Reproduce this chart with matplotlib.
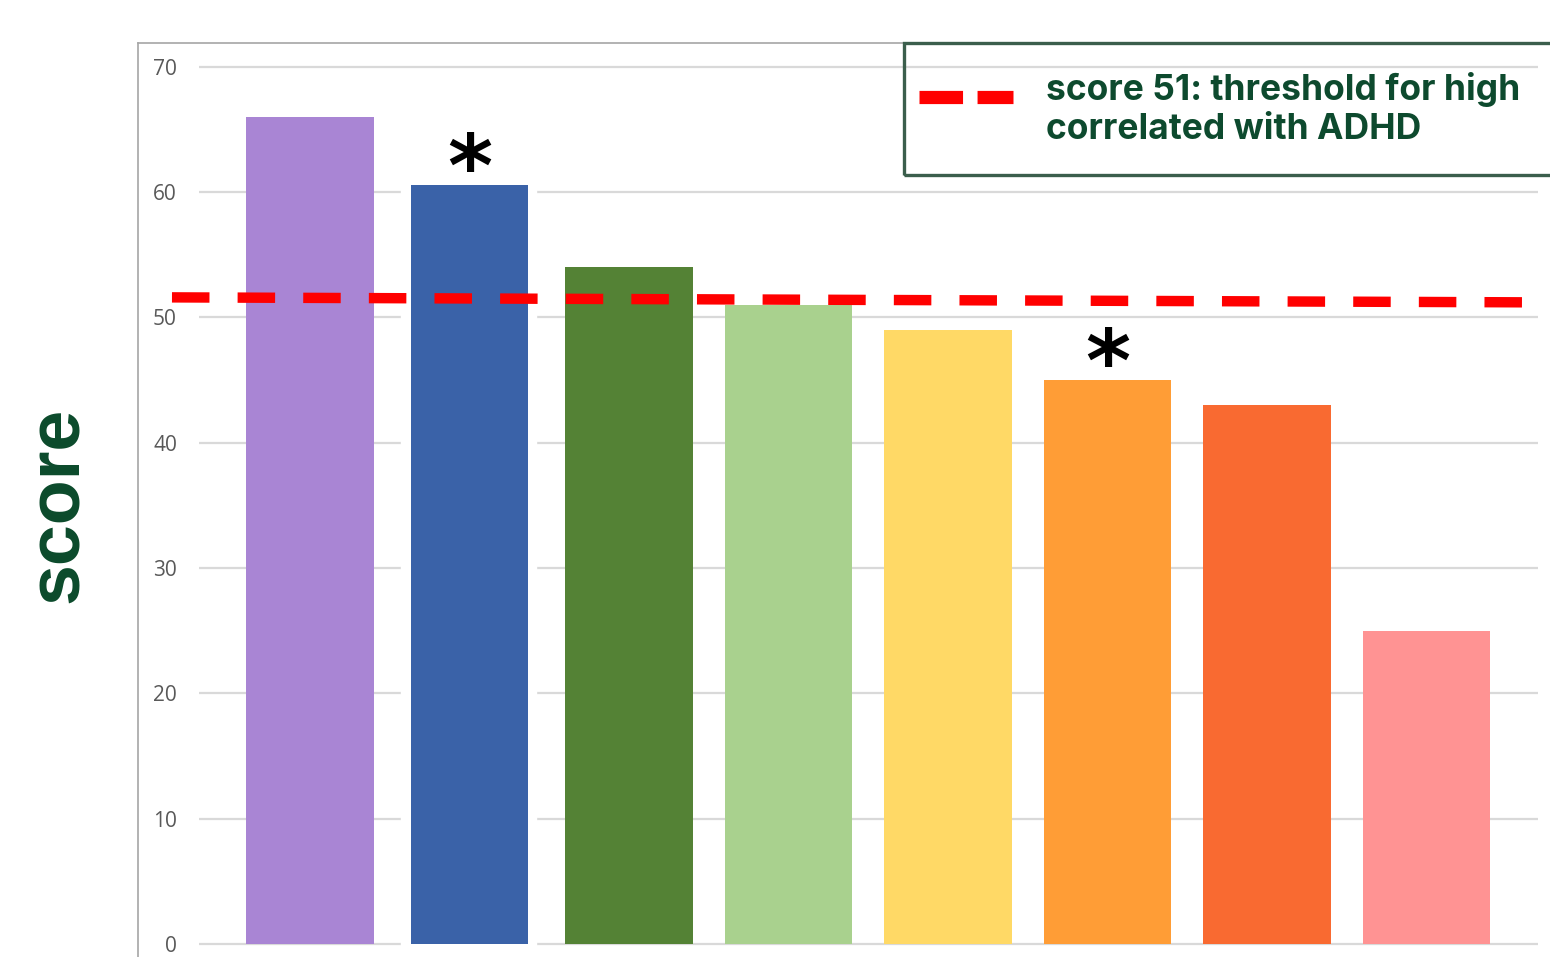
import matplotlib
matplotlib.use("Agg")
import matplotlib.pyplot as plt
from matplotlib.patches import Rectangle
from matplotlib.lines import Line2D

# values
scores = [66, 60.6, 54, 51, 49, 45, 43, 25]
bar_colors = ["#a985d4", "#3a62a8", "#548235", "#a9d18e",
              "#ffd966", "#ff9d36", "#f96a31", "#ff9393"]
bar_widths = [0.8, 0.73, 0.8, 0.8, 0.8, 0.8, 0.8, 0.8]
starred = [1, 5]
y_ticks = [0, 10, 20, 30, 40, 50, 60, 70]
threshold_line = [51.6, 51.2]   # hand-drawn line, slightly tilted
legend_text = "score 51: threshold for high\ncorrelated with ADHD"

W, H = 1550, 957
fig = plt.figure(figsize=(W / 100, H / 100), dpi=100)
ax = fig.add_axes([138 / W, 0, (W - 138) / W, (H - 43) / H])

# pixel -> data mapping: y 0 at px 944, 70 at px 67; bars 159.5 px apart
ax.set_xlim(-1.078, 7.774)
ax.set_ylim(-1.04, 71.9)

for s in ["right", "bottom"]:
    ax.spines[s].set_visible(False)
for s in ["left", "top"]:
    ax.spines[s].set_color("#a6a6a6")
    ax.spines[s].set_linewidth(1.2)

# gridlines
ax.hlines(y_ticks, -0.696, 7.70, color="#d9d9d9", lw=1.6, zorder=1)
# white block behind the second bar (pasted bar hides the gridlines)
ax.add_patch(Rectangle((0.57, -1.5), 0.85, 66, color="white", zorder=1.5))

x = list(range(len(scores)))
ax.bar(x, scores, width=bar_widths, color=bar_colors, zorder=2)

for i in starred:
    ax.text(i, scores[i] + 1.0, "*", ha="center", va="center",
            fontsize=62, fontweight="bold", color="black", zorder=4)

ax.plot([-0.865, 7.71], threshold_line, color="#ff0000", lw=7.5,
        linestyle=(0, (3.6, 2.7)), solid_capstyle="butt",
        dash_capstyle="butt", zorder=3, clip_on=False)

ax.set_xticks([])
ax.set_yticks(y_ticks)
ax.set_yticklabels([str(t) for t in y_ticks], fontfamily="Open Sans",
                   fontsize=15, color="#595959")
ax.tick_params(axis="y", length=0, pad=-28)
for lab in ax.get_yticklabels():
    lab.set_horizontalalignment("right")

fig.text(58 / W, 1 - 505 / H, "score", rotation=90, ha="center", va="center",
         fontsize=53, fontweight="bold", fontfamily="Liberation Sans",
         color="#0b4a2b")

# legend box (runs off the right edge like the reference)
fig.patches.append(Rectangle((904 / W, 1 - 175 / H), (W + 20 - 904) / W, 132 / H,
                             transform=fig.transFigure, fill=False,
                             edgecolor="#3b5e4c", lw=2.4, zorder=5))
fig.lines.append(Line2D([919 / W, 1013 / W], [1 - 97 / H, 1 - 97 / H],
                        transform=fig.transFigure, color="#ff0000", lw=9.5,
                        linestyle=(0, (3.3, 1.1)), dash_capstyle="butt",
                        zorder=6))
fig.text(1046 / W, 1 - 109 / H, legend_text, ha="left", va="center",
         fontsize=25.5, fontweight="bold", fontfamily="Inter",
         color="#0d4a2e", linespacing=1.2)

fig.savefig("out.png", dpi=100)
